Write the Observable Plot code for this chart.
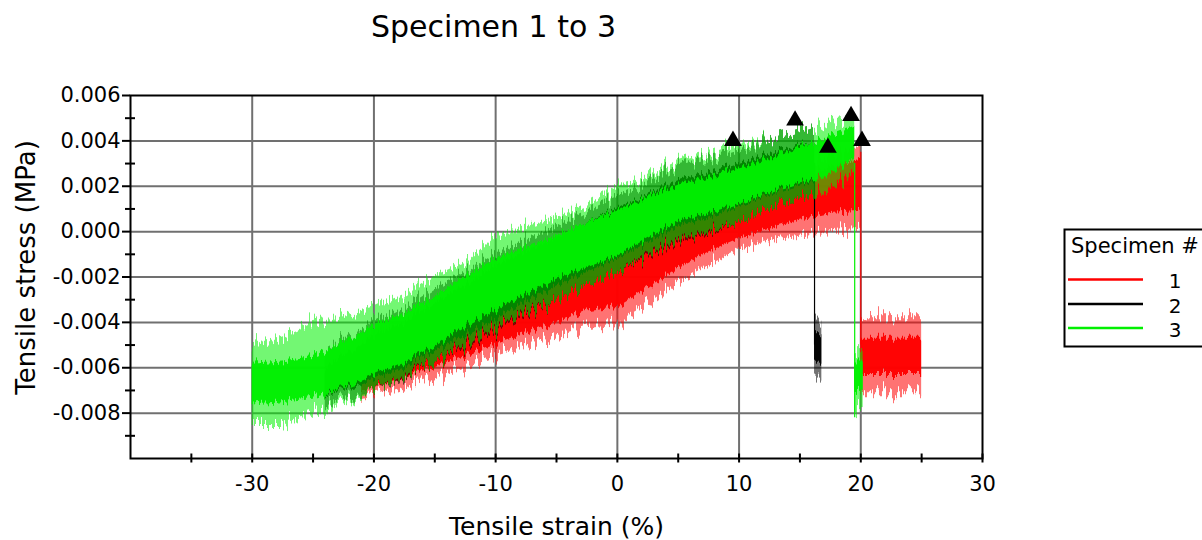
<!DOCTYPE html>
<html><head><meta charset="utf-8">
<script src="https://cdn.jsdelivr.net/npm/d3@7"></script>
<script src="https://cdn.jsdelivr.net/npm/@observablehq/plot@0.6"></script>
<style>
html,body{margin:0;padding:0;background:#fff;overflow:hidden;}
#wrap{position:relative;width:1202px;height:540px;font-family:"DejaVu Sans",Verdana,sans-serif;}
#legend{position:absolute;left:0;top:0;}
</style></head><body><div id="wrap"></div>
<script>
// ---- Data (strain in %, stress in MPa) ----
// Specimen 1 (red): noisy band envelope
const strain1 = [-21, -20, -17.5, -15, -12.5, -10, -7.5, -5, -2.5, 0, 2.5, 5, 7.5, 10, 12.5, 15, 17.5, 20];
const core1Hi = [-0.0055, -0.0052, -0.0046, -0.0040, -0.0034, -0.0030, -0.0024, -0.0018, -0.0012, -0.0009, -0.0003, 0.0004, 0.0010, 0.0017, 0.0021, 0.0025, 0.0028, 0.0031];
const core1Lo = [-0.0070, -0.0070, -0.0065, -0.0060, -0.0055, -0.0050, -0.0045, -0.0040, -0.0035, -0.0033, -0.0025, -0.0016, -0.0009, -0.0003, 0.0001, 0.0005, 0.0008, 0.0009];
const spike1Hi = [-0.0050, -0.0046, -0.0040, -0.0034, -0.0028, -0.0024, -0.0018, -0.0012, -0.0006, -0.0003, 0.0003, 0.0010, 0.0015, 0.0022, 0.0026, 0.0030, 0.0033, 0.0036];
const spike1Lo = [-0.0074, -0.0073, -0.0069, -0.0065, -0.0060, -0.0055, -0.0051, -0.0046, -0.0042, -0.0040, -0.0032, -0.0022, -0.0015, -0.0008, -0.0004, -0.0002, 0.0000, 0.0001];

// Specimen 2 (black)
const strain2 = [-24, -22.5, -20, -17.5, -15, -12.5, -10, -7.5, -5, -2.5, 0, 2.5, 5, 7.5, 10, 12.5, 15, 16.2];
const core2Hi = [-0.0060, -0.0055, -0.0047, -0.0040, -0.0032, -0.0024, -0.0015, -0.0009, -0.0003, 0.0004, 0.0010, 0.0016, 0.0022, 0.0026, 0.0030, 0.0034, 0.0038, 0.0039];
const core2Lo = [-0.0072, -0.0070, -0.0066, -0.0060, -0.0053, -0.0046, -0.0039, -0.0031, -0.0024, -0.0018, -0.0012, -0.0005, 0.0002, 0.0006, 0.0011, 0.0016, 0.0020, 0.0022];
const spike2Hi = [-0.0052, -0.0048, -0.0041, -0.0034, -0.0026, -0.0018, -0.0010, -0.0004, 0.0002, 0.0009, 0.0015, 0.0021, 0.0028, 0.0032, 0.0036, 0.0040, 0.0044, 0.0046];
const spike2Lo = [-0.0076, -0.0074, -0.0071, -0.0065, -0.0058, -0.0051, -0.0044, -0.0037, -0.0030, -0.0024, -0.0018, -0.0011, -0.0005, -0.0001, 0.0004, 0.0010, 0.0014, 0.0016];

// Specimen 3 (green)
const strain3 = [-30, -27.5, -25, -22.5, -20, -17.5, -15, -12.5, -10, -7.5, -5, -2.5, 0, 2.5, 5, 7.5, 10, 12.5, 15, 17.5, 19.5];
const core3Hi = [-0.0058, -0.0057, -0.0055, -0.0049, -0.0042, -0.0036, -0.0029, -0.0020, -0.0012, -0.0007, -0.0002, 0.0004, 0.0009, 0.0015, 0.0020, 0.0024, 0.0028, 0.0032, 0.0037, 0.0042, 0.0046];
const core3Lo = [-0.0076, -0.0075, -0.0073, -0.0069, -0.0064, -0.0058, -0.0051, -0.0042, -0.0035, -0.0028, -0.0021, -0.0016, -0.0011, -0.0003, 0.0004, 0.0008, 0.0012, 0.0017, 0.0021, 0.0025, 0.0032];
const spike3Hi = [-0.0050, -0.0046, -0.0040, -0.0038, -0.0034, -0.0028, -0.0020, -0.0014, -0.0002, 0.0002, 0.0006, 0.0012, 0.0019, 0.0024, 0.0030, 0.0034, 0.0039, 0.0040, 0.0044, 0.0048, 0.0050];
const spike3Lo = [-0.0085, -0.0085, -0.0080, -0.0076, -0.0071, -0.0064, -0.0058, -0.0050, -0.0043, -0.0036, -0.0030, -0.0024, -0.0018, -0.0010, -0.0004, 0.0000, 0.0004, 0.0010, 0.0014, 0.0018, 0.0026];

// Break drops (vertical line from band to post-break level)
const dropSpecimen = ["1", "2", "3"];
const dropStrain = [20.0, 16.2, 19.5];
const dropTop = [0.0035, 0.0030, 0.0030];
const dropBottom = [-0.0050, -0.0050, -0.0082];

// Post-break clusters
const clusterSpecimen = ["1", "2", "3"];
const clusterStart = [20.0, 16.2, 19.5];
const clusterEnd = [25.0, 16.8, 20.2];
const clusterCoreHi = [-0.0047, -0.0045, -0.0057];
const clusterCoreLo = [-0.0063, -0.0058, -0.0070];
const clusterSpikeHi = [-0.0038, -0.0039, -0.0052];
const clusterSpikeLo = [-0.0071, -0.0065, -0.0078];

// Triangle markers
const markerStrain = [9.5, 14.6, 17.3, 19.2, 20.1];
const markerStress = [0.0040, 0.0049, 0.0037, 0.0051, 0.0040];

// Axes
const xMajorTicks = [-30, -20, -10, 0, 10, 20, 30];
const xAllTicks = [-35, -30, -25, -20, -15, -10, -5, 0, 5, 10, 15, 20, 25, 30];
const yMajorTicks = [-0.008, -0.006, -0.004, -0.002, 0.000, 0.002, 0.004, 0.006];
const yMinorTicks = [-0.009, -0.007, -0.005, -0.003, -0.001, 0.001, 0.003, 0.005];
const xGrid = [-30, -20, -10, 0, 10, 20];
const yGrid = [-0.008, -0.006, -0.004, -0.002, 0.000, 0.002, 0.004];

const specimens = ["1", "2", "3"];
const colors = ["#ff0000", "#000000", "#00f000"];

// ---- build tables ----
const band = (s, lo, hi) => s.map((v, i) => ({strain: v, lo: lo[i], hi: hi[i]}));
const bands = [
  {c: colors[0], spike: band(strain1, spike1Lo, spike1Hi), core: band(strain1, core1Lo, core1Hi)},
  {c: colors[1], spike: band(strain2, spike2Lo, spike2Hi), core: band(strain2, core2Lo, core2Hi)},
  {c: colors[2], spike: band(strain3, spike3Lo, spike3Hi), core: band(strain3, core3Lo, core3Hi)}
];
const drops = dropSpecimen.map((s, i) => ({s, x: dropStrain[i], top: dropTop[i], bottom: dropBottom[i]}));
const markers = markerStrain.map((x, i) => ({x, y: markerStress[i]}));
const fmt = d => (d < -1e-12 ? "-" : "") + Math.abs(d).toFixed(3);

const SPIKE_OP = 0.55, CORE_OP = 0.97;
const bandMarks = [];
bands.forEach((b, k) => {
  bandMarks.push(Plot.areaY(b.spike, {x: "strain", y1: "lo", y2: "hi", fill: b.c, fillOpacity: SPIKE_OP}));
  bandMarks.push(Plot.areaY(b.core, {x: "strain", y1: "lo", y2: "hi", fill: b.c, fillOpacity: CORE_OP}));
  const d = drops.filter(o => o.s === specimens[k]);
  bandMarks.push(Plot.ruleX(d, {x: "x", y1: "top", y2: "bottom", stroke: b.c, strokeWidth: 1.2}));
  clusterSpecimen.forEach((s, i) => {
    if (s !== specimens[k]) return;
    const sp = [{strain: clusterStart[i], lo: clusterSpikeLo[i], hi: clusterSpikeHi[i]}, {strain: clusterEnd[i], lo: clusterSpikeLo[i], hi: clusterSpikeHi[i]}];
    const co = [{strain: clusterStart[i], lo: clusterCoreLo[i], hi: clusterCoreHi[i]}, {strain: clusterEnd[i], lo: clusterCoreLo[i], hi: clusterCoreHi[i]}];
    bandMarks.push(Plot.areaY(sp, {x: "strain", y1: "lo", y2: "hi", fill: b.c, fillOpacity: SPIKE_OP}));
    bandMarks.push(Plot.areaY(co, {x: "strain", y1: "lo", y2: "hi", fill: b.c, fillOpacity: CORE_OP}));
  });
});

const chart = Plot.plot({
  width: 1202,
  height: 540,
  marginLeft: 130,
  marginRight: 220,
  marginTop: 95,
  marginBottom: 82,
  style: {fontFamily: "'DejaVu Sans', Verdana, sans-serif", background: "#fff", color: "#000"},
  x: {domain: [-40, 30]},
  y: {domain: [-0.010, 0.006]},
  marks: [
    Plot.gridX({ticks: xGrid, stroke: "#707070", strokeOpacity: 1, strokeWidth: 2}),
    Plot.gridY({ticks: yGrid, stroke: "#707070", strokeOpacity: 1, strokeWidth: 2}),
    ...bandMarks,
    Plot.dot(markers, {x: "x", y: "y", symbol: "triangle", r: 6.6, fill: "#000", stroke: "none"}),
    Plot.frame({stroke: "#000", strokeWidth: 2}),
    Plot.axisY({ticks: yMajorTicks, tickSize: 8, tickPadding: 2, tickFormat: fmt, fontSize: 21, label: null, strokeWidth: 2}),
    Plot.axisY({ticks: yMinorTicks, tickSize: 10, dx: 5, tickFormat: () => "", label: null, strokeWidth: 2}),
    Plot.axisX({ticks: xMajorTicks, tickSize: 0, tickPadding: 18, tickFormat: d => (d < 0 ? "-" : "") + Math.abs(d), fontSize: 21, label: null}),
    Plot.axisX({ticks: xAllTicks, tickSize: 9, dy: -4.5, tickFormat: () => "", label: null, strokeWidth: 2}),
    Plot.text(["Specimen 1 to 3"], {frameAnchor: "top", lineAnchor: "middle", textAnchor: "middle", dx: -63, dy: -68.5, fontSize: 30}),
    Plot.text(["Tensile strain (%)"], {frameAnchor: "bottom", lineAnchor: "middle", textAnchor: "middle", dy: 68, fontSize: 25}),
    Plot.text(["Tensile stress (MPa)"], {frameAnchor: "left", lineAnchor: "middle", textAnchor: "middle", rotate: -90, dx: -104, dy: -9.5, fontSize: 26})
  ]
});
document.getElementById("wrap").appendChild(chart);

// ---- hairy texture for the noisy bands (visual style only) ----
const svg = d3.select(chart);
const defs = svg.insert("defs", ":first-child");
function hairFilter(id, freqX, scale) {
  const f = defs.append("filter").attr("id", id).attr("filterUnits", "userSpaceOnUse")
    .attr("x", 0).attr("y", 0).attr("width", 1202).attr("height", 540);
  f.append("feTurbulence").attr("type", "fractalNoise").attr("baseFrequency", freqX + " 0.004")
    .attr("numOctaves", 2).attr("seed", 3).attr("result", "noise");
  f.append("feColorMatrix").attr("in", "noise").attr("type", "matrix")
    .attr("values", "0 0 0 0 0.5  0 1 0 0 0  0 0 1 0 0  0 0 0 0 1").attr("result", "map");
  f.append("feDisplacementMap").attr("in", "SourceGraphic").attr("in2", "map")
    .attr("scale", scale).attr("xChannelSelector", "R").attr("yChannelSelector", "G");
}
hairFilter("hairSpike", 0.45, 32);
hairFilter("hairCore", 0.45, 16);
svg.selectAll(`g[fill-opacity="${SPIKE_OP}"]`).attr("filter", "url(#hairSpike)");
svg.selectAll(`g[fill-opacity="${CORE_OP}"]`).attr("filter", "url(#hairCore)");

// ---- legend ----
const lg = d3.select("#wrap").append("svg").attr("id", "legend").attr("width", 1202).attr("height", 540)
  .style("pointer-events", "none").attr("font-family", "'DejaVu Sans', Verdana, sans-serif");
lg.append("rect").attr("x", 1064.5).attr("y", 229.5).attr("width", 200).attr("height", 117)
  .attr("fill", "#fff").attr("stroke", "#000").attr("stroke-width", 2);
lg.append("text").attr("x", 1071).attr("y", 253).attr("font-size", 21).text("Specimen #");
const lineYs = [279.5, 304, 328];
specimens.forEach((s, i) => {
  lg.append("line").attr("x1", 1068).attr("x2", 1143).attr("y1", lineYs[i]).attr("y2", lineYs[i])
    .attr("stroke", colors[i]).attr("stroke-width", 2.5);
  lg.append("text").attr("x", 1175).attr("y", lineYs[i] + 8.5).attr("text-anchor", "middle").attr("font-size", 20).text(s);
});
</script></body></html>
